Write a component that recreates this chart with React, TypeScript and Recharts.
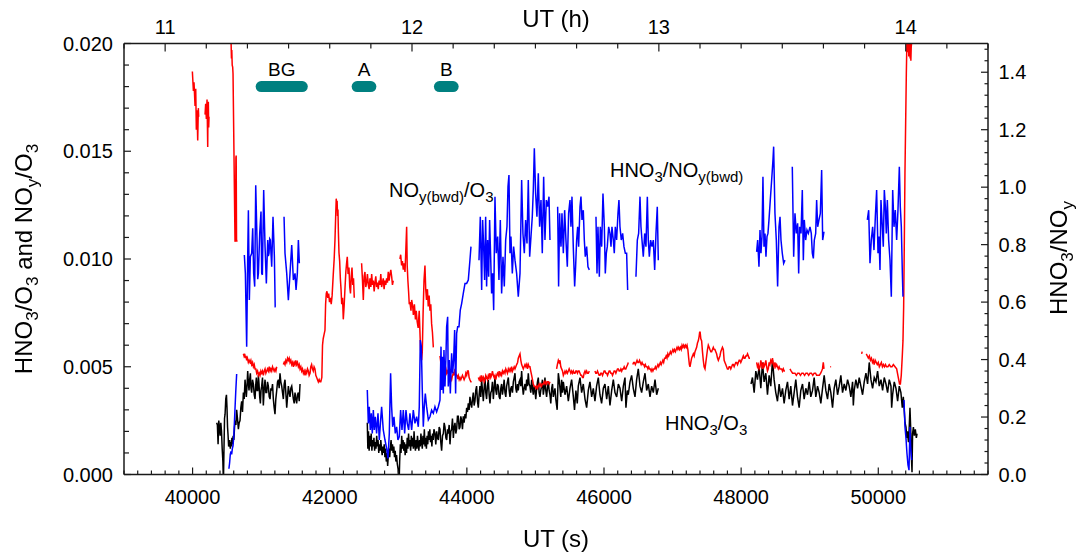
import React from 'react';
import { LineChart, Line, XAxis, YAxis, ReferenceDot } from 'recharts';

type Pt = [number, number | null];

const FONT = '"Liberation Sans", Arial, Helvetica, sans-serif';
const AX = '#1a1a1a';

// NOy(bwd)/O3 (left axis), red
const noyO3: Pt[] = [
  [39997,0.0187],[40012,0.0178],[40021,0.0182],[40036,0.0171],[40046,0.0179],[40055,0.0160],[40065,0.0169],[40075,0.0155],[40084,0.0170],[40089,0.0166],[40130,null],
  [40182,0.0167],[40191,0.0172],[40201,0.0165],[40211,0.0174],[40216,0.0163],[40221,0.0152],[40225,0.0171],[40230,0.0173],[40235,0.0161],[40240,0.0166],[40400,null],
  [40555,0.0210],[40562,0.0200],[40567,0.0193],[40572,0.0197],[40578,0.0190],[40585,0.0189],[40590,0.0186],[40619,0.0108],[40626,0.0109],[40632,0.0147],[40636,0.0148],[40641,0.0109],[40648,0.0108],[40700,null],
  [40741,0.0056],[40750,0.0055],[40760,0.0056],[40770,0.0054],[40780,0.0055],[40789,0.0053],[40800,0.0054],[40813,0.0052],[40825,0.0053],[40838,0.0052],[40850,0.0053],[40862,0.0051],[40875,0.0052],[40887,0.0050],[40899,0.0051],[40911,0.0049],[40923,0.0049],[40935,0.0047],[40948,0.0048],[40960,0.0046],[40972,0.0047],[40984,0.0046],[40996,0.0048],[41008,0.0047],[41020,0.0048],[41032,0.0046],[41045,0.0048],[41057,0.0049],[41069,0.0047],[41081,0.0048],[41093,0.0049],[41105,0.0048],[41118,0.0050],[41130,0.0048],[41142,0.0049],[41154,0.0048],[41166,0.0050],[41178,0.0049],[41190,0.0048],[41202,0.0049],[41215,0.0048],[41227,0.0050],[41280,null],
  [41324,0.0051],[41336,0.0052],[41348,0.0051],[41360,0.0053],[41373,0.0052],[41385,0.0054],[41397,0.0053],[41409,0.0054],[41421,0.0052],[41433,0.0053],[41446,0.0051],[41458,0.0052],[41470,0.0050],[41482,0.0052],[41494,0.0051],[41506,0.0053],[41518,0.0051],[41530,0.0052],[41543,0.0050],[41555,0.0051],[41567,0.0049],[41579,0.0050],[41591,0.0048],[41603,0.0049],[41616,0.0047],[41628,0.0048],[41640,0.0046],[41652,0.0048],[41664,0.0047],[41676,0.0049],[41689,0.0048],[41700,0.0046],[41713,0.0047],[41724,0.0050],[41736,0.0051],[41748,0.0049],[41760,0.0048],[41772,0.0050],[41785,0.0049],[41797,0.0046],[41810,0.0045],[41822,0.0044],[41834,0.0043],[41846,0.0044],[41858,0.0043],[41870,0.0043],[41885,0.0045],[41895,0.0060],[41905,0.0063],[41918,0.0065],[41931,0.0067],[41940,0.0079],[41950,0.0084],[41960,0.0085],[41972,0.0082],[41985,0.0084],[41997,0.0080],[42010,0.0082],[42022,0.0079],[42035,0.0083],[42052,0.0093],[42065,0.0100],[42077,0.0109],[42088,0.0121],[42095,0.0128],[42101,0.0125],[42108,0.0127],[42114,0.0120],[42120,0.0123],[42127,0.0112],[42135,0.0103],[42145,0.0099],[42155,0.0091],[42165,0.0086],[42175,0.0079],[42187,0.0082],[42198,0.0072],[42210,0.0078],[42222,0.0086],[42235,0.0094],[42246,0.0098],[42256,0.0101],[42268,0.0093],[42281,0.0096],[42292,0.0087],[42303,0.0084],[42314,0.0092],[42325,0.0096],[42336,0.0088],[42347,0.0091],[42358,0.0082],[42410,null],
  [42465,0.0098],[42478,0.0090],[42490,0.0081],[42502,0.0092],[42514,0.0094],[42526,0.0087],[42538,0.0089],[42550,0.0093],[42563,0.0088],[42575,0.0086],[42587,0.0091],[42600,0.0087],[42612,0.0093],[42624,0.0088],[42636,0.0090],[42648,0.0085],[42660,0.0089],[42672,0.0092],[42684,0.0087],[42696,0.0089],[42708,0.0086],[42720,0.0090],[42733,0.0088],[42745,0.0093],[42757,0.0087],[42769,0.0089],[42781,0.0091],[42793,0.0086],[42806,0.0090],[42818,0.0088],[42830,0.0091],[42842,0.0089],[42854,0.0094],[42866,0.0090],[42879,0.0093],[42891,0.0095],[42903,0.0092],[42915,0.0088],[42927,0.0090],[42980,null],
  [43024,0.0100],[43035,0.0102],[43048,0.0097],[43060,0.0099],[43073,0.0095],[43085,0.0098],[43098,0.0094],[43110,0.0104],[43122,0.0115],[43130,0.0097],[43140,0.0090],[43150,0.0085],[43160,0.0079],[43170,0.0080],[43185,0.0076],[43195,0.0081],[43210,0.0078],[43220,0.0074],[43235,0.0079],[43250,0.0072],[43262,0.0076],[43275,0.0071],[43290,0.0068],[43305,0.0076],[43318,0.0064],[43330,0.0055],[43340,0.0053],[43350,0.0057],[43362,0.0075],[43375,0.0090],[43389,0.0097],[43400,0.0086],[43412,0.0081],[43425,0.0086],[43437,0.0078],[43450,0.0083],[43462,0.0076],[43474,0.0079],[43486,0.0070],[43498,0.0066],[43511,0.0059],[43560,null],
  [43608,0.0055],[43620,0.0052],[43632,0.0050],[43645,0.0051],[43657,0.0049],[43669,0.0050],[43681,0.0048],[43694,0.0049],[43706,0.0047],[43718,0.0048],[43729,0.0047],[43742,0.0046],[43754,0.0047],[43766,0.0045],[43778,0.0044],[43790,0.0046],[43803,0.0047],[43815,0.0046],[43827,0.0049],[43839,0.0047],[43851,0.0046],[43863,0.0045],[43875,0.0046],[43888,0.0044],[43900,0.0045],[43912,0.0044],[43924,0.0045],[43936,0.0046],[43948,0.0045],[43960,0.0044],[43973,0.0045],[43985,0.0047],[43997,0.0046],[44009,0.0048],[44021,0.0048],[44033,0.0045],[44045,0.0044],[44058,0.0043],[44070,0.0043],[44120,null],
  [44167,0.0045],[44179,0.0044],[44191,0.0045],[44203,0.0043],[44215,0.0046],[44228,0.0044],[44240,0.0045],[44252,0.0043],[44264,0.0044],[44276,0.0046],[44288,0.0045],[44300,0.0044],[44313,0.0046],[44325,0.0045],[44337,0.0047],[44349,0.0045],[44361,0.0046],[44373,0.0048],[44386,0.0046],[44398,0.0045],[44410,0.0046],[44422,0.0044],[44434,0.0046],[44446,0.0047],[44459,0.0046],[44471,0.0048],[44483,0.0046],[44495,0.0047],[44507,0.0046],[44519,0.0048],[44531,0.0047],[44544,0.0048],[44556,0.0047],[44568,0.0049],[44580,0.0048],[44592,0.0047],[44605,0.0049],[44617,0.0048],[44629,0.0049],[44641,0.0048],[44653,0.0050],[44665,0.0048],[44678,0.0049],[44690,0.0050],[44702,0.0049],[44714,0.0050],[44726,0.0051],[44740,0.0052],[44750,0.0054],[44762,0.0055],[44775,0.0056],[44787,0.0053],[44799,0.0051],[44811,0.0050],[44823,0.0049],[44835,0.0050],[44848,0.0051],[44860,0.0050],[44872,0.0051],[44884,0.0049],[44896,0.0051],[44908,0.0050],[44920,0.0050],[44932,0.0048],[44945,0.0046],[44957,0.0044],[44969,0.0042],[44981,0.0041],[44993,0.0041],[45005,0.0040],[45018,0.0041],[45030,0.0040],[45042,0.0041],[45054,0.0042],[45066,0.0041],[45078,0.0042],[45090,0.0041],[45102,0.0042],[45115,0.0042],[45127,0.0043],[45139,0.0042],[45151,0.0043],[45163,0.0042],[45175,0.0043],[45188,0.0043],[45200,0.0042],[45212,0.0043],[45260,null],
  [45309,0.0049],[45320,0.0051],[45334,0.0053],[45346,0.0052],[45358,0.0053],[45370,0.0050],[45382,0.0049],[45395,0.0048],[45407,0.0046],[45420,0.0047],[45431,0.0048],[45443,0.0047],[45455,0.0048],[45467,0.0047],[45480,0.0048],[45492,0.0049],[45504,0.0048],[45516,0.0047],[45528,0.0048],[45540,0.0047],[45553,0.0048],[45565,0.0047],[45577,0.0047],[45589,0.0048],[45601,0.0048],[45613,0.0047],[45625,0.0048],[45637,0.0048],[45650,0.0047],[45662,0.0046],[45674,0.0046],[45686,0.0045],[45698,0.0045],[45710,0.0047],[45723,0.0048],[45735,0.0047],[45747,0.0048],[45759,0.0047],[45771,0.0047],[45786,0.0048],[45830,null],
  [45868,0.0048],[45880,0.0047],[45892,0.0047],[45905,0.0048],[45917,0.0047],[45929,0.0046],[45941,0.0046],[45953,0.0047],[45965,0.0047],[45978,0.0046],[45990,0.0047],[46002,0.0048],[46014,0.0048],[46027,0.0047],[46039,0.0047],[46051,0.0046],[46063,0.0047],[46075,0.0048],[46087,0.0048],[46100,0.0047],[46112,0.0047],[46124,0.0046],[46136,0.0047],[46148,0.0048],[46160,0.0048],[46173,0.0047],[46185,0.0048],[46197,0.0049],[46209,0.0049],[46221,0.0048],[46233,0.0048],[46246,0.0049],[46258,0.0048],[46270,0.0049],[46282,0.0049],[46294,0.0050],[46306,0.0049],[46318,0.0049],[46330,0.0050],[46345,0.0051],[46354,0.0052],[46390,null],
  [46420,0.0051],[46432,0.0052],[46445,0.0052],[46457,0.0051],[46470,0.0052],[46482,0.0053],[46494,0.0052],[46506,0.0052],[46518,0.0053],[46530,0.0052],[46542,0.0051],[46555,0.0052],[46567,0.0051],[46579,0.0051],[46591,0.0050],[46603,0.0051],[46615,0.0050],[46628,0.0050],[46640,0.0049],[46652,0.0050],[46664,0.0049],[46676,0.0049],[46688,0.0048],[46700,0.0049],[46713,0.0048],[46725,0.0049],[46737,0.0049],[46749,0.0050],[46761,0.0049],[46773,0.0050],[46786,0.0051],[46798,0.0050],[46810,0.0051],[46822,0.0052],[46834,0.0051],[46846,0.0052],[46858,0.0053],[46870,0.0052],[46883,0.0054],[46895,0.0054],[46907,0.0055],[46919,0.0054],[46931,0.0056],[46943,0.0055],[46956,0.0056],[46968,0.0057],[46980,0.0056],[46992,0.0057],[47004,0.0058],[47016,0.0057],[47028,0.0058],[47041,0.0057],[47053,0.0058],[47065,0.0059],[47077,0.0058],[47089,0.0059],[47101,0.0058],[47114,0.0059],[47126,0.0058],[47138,0.0060],[47150,0.0059],[47162,0.0060],[47174,0.0059],[47187,0.0060],[47199,0.0059],[47211,0.0060],[47223,0.0058],[47235,0.0054],[47245,0.0051],[47254,0.0050],[47266,0.0052],[47278,0.0054],[47290,0.0055],[47303,0.0056],[47315,0.0055],[47327,0.0057],[47339,0.0058],[47351,0.0059],[47363,0.0061],[47375,0.0062],[47387,0.0064],[47395,0.0066],[47402,0.0066],[47412,0.0063],[47424,0.0062],[47436,0.0057],[47448,0.0053],[47460,0.0050],[47473,0.0049],[47485,0.0052],[47497,0.0055],[47509,0.0058],[47521,0.0060],[47533,0.0059],[47545,0.0058],[47558,0.0057],[47570,0.0057],[47582,0.0058],[47594,0.0059],[47606,0.0058],[47618,0.0058],[47630,0.0057],[47642,0.0056],[47655,0.0054],[47667,0.0053],[47679,0.0054],[47691,0.0055],[47703,0.0057],[47715,0.0058],[47727,0.0059],[47740,0.0058],[47752,0.0053],[47764,0.0052],[47776,0.0051],[47788,0.0050],[47800,0.0049],[47813,0.0049],[47825,0.0050],[47837,0.0050],[47849,0.0049],[47862,0.0050],[47874,0.0051],[47886,0.0051],[47898,0.0050],[47910,0.0051],[47922,0.0052],[47935,0.0052],[47947,0.0051],[47959,0.0052],[47971,0.0053],[47983,0.0053],[47995,0.0052],[48008,0.0053],[48020,0.0054],[48032,0.0055],[48044,0.0054],[48056,0.0054],[48068,0.0055],[48080,0.0055],[48093,0.0056],[48105,0.0055],[48117,0.0054],[48129,0.0054],[48180,null],
  [48226,0.0052],[48238,0.0050],[48250,0.0051],[48262,0.0049],[48275,0.0050],[48287,0.0053],[48299,0.0051],[48311,0.0049],[48323,0.0052],[48335,0.0050],[48348,0.0051],[48360,0.0053],[48372,0.0050],[48384,0.0048],[48396,0.0049],[48408,0.0052],[48420,0.0051],[48432,0.0053],[48445,0.0052],[48457,0.0054],[48469,0.0051],[48481,0.0050],[48493,0.0052],[48505,0.0050],[48518,0.0051],[48530,0.0050],[48542,0.0049],[48554,0.0050],[48566,0.0049],[48578,0.0049],[48591,0.0049],[48603,0.0048],[48615,0.0049],[48627,0.0048],[48639,0.0048],[48680,null],
  [48712,0.0049],[48730,0.0048],[48750,0.0047],[48770,0.0047],[48785,0.0047],[48805,0.0046],[48825,0.0047],[48845,0.0047],[48865,0.0046],[48885,0.0047],[48905,0.0047],[48925,0.0046],[48945,0.0047],[48965,0.0047],[48985,0.0046],[49004,0.0047],[49025,0.0047],[49045,0.0046],[49065,0.0047],[49085,0.0047],[49101,0.0046],[49120,0.0046],[49140,0.0046],[49160,0.0047],[49174,0.0048],[49186,0.0049],[49198,0.0052],[49208,0.0049],[49250,null],
  [49300,0.0050],[49312,0.0050],[49500,null],
  [49757,0.0056],[49765,0.0057],[49790,null],
  [49825,0.0056],[49840,0.0055],[49855,0.0054],[49870,0.0055],[49885,0.0053],[49900,0.0054],[49915,0.0052],[49928,0.0053],[49940,0.0051],[49955,0.0053],[49970,0.0052],[49985,0.0051],[50000,0.0052],[50015,0.0050],[50030,0.0051],[50045,0.0052],[50060,0.0050],[50075,0.0051],[50090,0.0050],[50105,0.0051],[50120,0.0050],[50140,0.0050],[50160,0.0051],[50180,0.0050],[50200,0.0050],[50220,0.0051],[50244,0.0050],[50268,0.0049],[50292,0.0045],[50310,0.0042],[50322,0.0042],[50335,0.0046],[50350,0.0055],[50360,0.0062],[50370,0.0078],[50380,0.0109],[50389,0.0140],[50399,0.0163],[50409,0.0186],[50418,0.0202],[50425,0.0196],[50430,0.0205],[50436,0.0199],[50440,0.0203],[50445,0.0194],[50450,0.0201],[50455,0.0195],[50460,0.0203],[50465,0.0193],[50470,0.0200],[50475,0.0192],[50480,0.0198],[50487,0.0201],
];

// HNO3/O3 (left axis), black
const hno3O3: Pt[] = [
  [40352,0.0024],[40362,0.0023],[40372,0.0014],[40382,0.0025],[40392,0.0022],[40402,0.0018],[40412,0.0024],[40422,0.0020],[40432,0.0012],[40442,0.0006],[40450,-0.0004],[40458,0.0012],[40466,0.0026],[40474,0.0028],[40484,0.0035],[40494,0.0037],[40502,0.0031],[40510,0.0022],[40518,0.0018],[40526,0.0013],[40534,0.0014],[40542,0.0016],[40550,0.0012],[40558,0.0015],[40566,0.0013],[40574,0.0017],[40582,0.0014],[40592,0.0018],[40602,0.0016],[40612,0.0022],[40622,0.0025],[40632,0.0023],[40643,0.0030],[40655,0.0026],[40668,0.0021],[40680,0.0024],[40692,0.0025],[40704,0.0031],[40716,0.0034],[40728,0.0029],[40741,0.0038],[40753,0.0035],[40765,0.0044],[40775,0.0040],[40784,0.0036],[40794,0.0041],[40804,0.0048],[40813,0.0043],[40823,0.0039],[40833,0.0044],[40843,0.0047],[40852,0.0040],[40862,0.0038],[40874,0.0044],[40887,0.0042],[40899,0.0037],[40911,0.0035],[40920,0.0041],[40930,0.0045],[40940,0.0039],[40950,0.0039],[40960,0.0046],[40969,0.0042],[40979,0.0036],[40989,0.0033],[40998,0.0039],[41008,0.0041],[41020,0.0045],[41032,0.0032],[41045,0.0040],[41057,0.0044],[41069,0.0038],[41081,0.0038],[41093,0.0043],[41105,0.0041],[41118,0.0036],[41130,0.0035],[41142,0.0040],[41154,0.0039],[41166,0.0042],[41178,0.0035],[41190,0.0031],[41202,0.0028],[41214,0.0035],[41227,0.0039],[41239,0.0043],[41251,0.0044],[41263,0.0040],[41275,0.0047],[41287,0.0043],[41300,0.0041],[41312,0.0038],[41324,0.0035],[41336,0.0042],[41348,0.0044],[41360,0.0038],[41373,0.0031],[41385,0.0036],[41397,0.0041],[41409,0.0038],[41421,0.0036],[41433,0.0040],[41446,0.0041],[41458,0.0038],[41470,0.0035],[41482,0.0033],[41494,0.0038],[41506,0.0035],[41518,0.0033],[41530,0.0037],[41543,0.0038],[41555,0.0034],[41567,0.0042],[41600,null],
  [42548,0.0024],[42556,0.0012],[42565,0.0020],[42575,0.0011],[42585,0.0018],[42595,0.0013],[42605,0.0019],[42615,0.0011],[42625,0.0016],[42635,0.0013],[42645,0.0017],[42655,0.0011],[42665,0.0015],[42675,0.0012],[42685,0.0018],[42695,0.0013],[42705,0.0016],[42715,0.0010],[42725,0.0014],[42735,0.0011],[42745,0.0016],[42755,0.0012],[42765,0.0009],[42775,0.0013],[42785,0.0010],[42795,0.0014],[42805,0.0008],[42815,0.0012],[42825,0.0006],[42835,0.0010],[42845,0.0004],[42855,0.0009],[42865,0.0012],[42875,0.0008],[42885,0.0013],[42895,0.0016],[42905,0.0011],[42915,0.0014],[42925,0.0010],[42935,0.0013],[42945,0.0008],[42955,0.0011],[42965,0.0006],[42975,0.0009],[42985,0.0005],[42995,0.0003],[43005,0.0000],[43012,-0.0004],[43020,0.0006],[43030,0.0014],[43040,0.0010],[43050,0.0018],[43060,0.0012],[43070,0.0016],[43080,0.0011],[43090,0.0015],[43100,0.0009],[43110,0.0014],[43120,0.0010],[43130,0.0017],[43140,0.0012],[43150,0.0019],[43160,0.0013],[43170,0.0016],[43180,0.0011],[43190,0.0018],[43200,0.0013],[43210,0.0017],[43220,0.0012],[43230,0.0020],[43240,0.0014],[43250,0.0011],[43260,0.0016],[43270,0.0012],[43280,0.0018],[43290,0.0014],[43300,0.0011],[43310,0.0016],[43320,0.0013],[43330,0.0019],[43340,0.0015],[43350,0.0012],[43360,0.0018],[43370,0.0014],[43380,0.0021],[43390,0.0013],[43400,0.0017],[43410,0.0012],[43420,0.0018],[43430,0.0014],[43440,0.0020],[43450,0.0016],[43460,0.0021],[43470,0.0015],[43480,0.0018],[43490,0.0013],[43500,0.0019],[43510,0.0016],[43520,0.0021],[43535,0.0019],[43547,0.0014],[43560,0.0020],[43572,0.0017],[43584,0.0016],[43596,0.0022],[43608,0.0021],[43620,0.0015],[43632,0.0011],[43645,0.0018],[43657,0.0019],[43669,0.0024],[43681,0.0022],[43694,0.0017],[43706,0.0016],[43718,0.0021],[43729,0.0019],[43742,0.0023],[43754,0.0014],[43766,0.0020],[43778,0.0021],[43790,0.0026],[43803,0.0017],[43815,0.0022],[43827,0.0024],[43839,0.0019],[43851,0.0021],[43863,0.0027],[43875,0.0027],[43888,0.0021],[43900,0.0022],[43912,0.0027],[43924,0.0025],[43936,0.0021],[43948,0.0027],[43960,0.0024],[43973,0.0028],[43985,0.0026],[43997,0.0031],[44009,0.0029],[44021,0.0033],[44033,0.0030],[44045,0.0036],[44058,0.0033],[44070,0.0031],[44082,0.0035],[44094,0.0038],[44106,0.0032],[44118,0.0034],[44130,0.0039],[44142,0.0041],[44155,0.0034],[44167,0.0031],[44179,0.0037],[44191,0.0041],[44203,0.0036],[44215,0.0044],[44228,0.0039],[44240,0.0034],[44252,0.0040],[44264,0.0045],[44276,0.0038],[44288,0.0035],[44300,0.0041],[44313,0.0044],[44325,0.0037],[44337,0.0033],[44349,0.0038],[44361,0.0039],[44373,0.0043],[44386,0.0035],[44398,0.0040],[44410,0.0045],[44422,0.0039],[44434,0.0037],[44446,0.0042],[44459,0.0041],[44471,0.0036],[44483,0.0035],[44495,0.0040],[44507,0.0042],[44519,0.0037],[44531,0.0040],[44544,0.0044],[44556,0.0038],[44568,0.0036],[44580,0.0041],[44592,0.0043],[44605,0.0045],[44617,0.0039],[44629,0.0036],[44641,0.0040],[44653,0.0041],[44665,0.0038],[44678,0.0043],[44690,0.0045],[44702,0.0047],[44714,0.0040],[44726,0.0038],[44738,0.0042],[44750,0.0039],[44762,0.0043],[44775,0.0044],[44787,0.0041],[44799,0.0048],[44811,0.0041],[44823,0.0037],[44835,0.0040],[44848,0.0042],[44860,0.0039],[44872,0.0044],[44884,0.0041],[44896,0.0047],[44908,0.0042],[44920,0.0041],[44932,0.0038],[44945,0.0044],[44957,0.0040],[44969,0.0037],[44981,0.0041],[44993,0.0039],[45005,0.0035],[45018,0.0040],[45030,0.0043],[45042,0.0045],[45054,0.0038],[45066,0.0036],[45078,0.0039],[45090,0.0041],[45102,0.0044],[45115,0.0037],[45127,0.0040],[45139,0.0045],[45151,0.0039],[45163,0.0036],[45175,0.0040],[45188,0.0043],[45200,0.0039],[45212,0.0037],[45224,0.0033],[45237,0.0040],[45249,0.0042],[45261,0.0036],[45273,0.0038],[45285,0.0040],[45297,0.0035],[45317,0.0030],[45334,0.0047],[45346,0.0044],[45358,0.0040],[45370,0.0036],[45382,0.0044],[45395,0.0038],[45407,0.0043],[45431,0.0037],[45455,0.0041],[45480,0.0034],[45504,0.0040],[45528,0.0044],[45553,0.0036],[45570,0.0030],[45590,0.0039],[45610,0.0033],[45625,0.0041],[45650,0.0045],[45674,0.0038],[45698,0.0042],[45723,0.0035],[45747,0.0031],[45771,0.0039],[45795,0.0043],[45820,0.0036],[45844,0.0040],[45868,0.0034],[45892,0.0041],[45917,0.0045],[45941,0.0037],[45965,0.0033],[45990,0.0040],[46014,0.0042],[46039,0.0035],[46063,0.0041],[46087,0.0032],[46112,0.0039],[46136,0.0044],[46160,0.0038],[46185,0.0036],[46209,0.0042],[46233,0.0040],[46258,0.0034],[46282,0.0041],[46306,0.0045],[46320,0.0031],[46340,0.0039],[46354,0.0037],[46379,0.0043],[46403,0.0046],[46427,0.0040],[46452,0.0036],[46476,0.0044],[46500,0.0049],[46525,0.0041],[46549,0.0038],[46573,0.0043],[46598,0.0047],[46622,0.0039],[46646,0.0042],[46671,0.0036],[46695,0.0041],[46719,0.0038],[46744,0.0044],[46768,0.0037],[46792,0.0040],[47500,null],
  [48144,0.0042],[48165,0.0045],[48190,0.0038],[48214,0.0048],[48238,0.0044],[48262,0.0050],[48287,0.0040],[48311,0.0052],[48335,0.0043],[48360,0.0047],[48384,0.0037],[48408,0.0046],[48432,0.0041],[48457,0.0053],[48481,0.0044],[48505,0.0038],[48530,0.0034],[48554,0.0042],[48578,0.0036],[48603,0.0040],[48627,0.0033],[48651,0.0039],[48676,0.0043],[48700,0.0035],[48724,0.0041],[48749,0.0032],[48773,0.0038],[48797,0.0044],[48822,0.0036],[48846,0.0031],[48870,0.0039],[48895,0.0042],[48919,0.0035],[48943,0.0040],[48968,0.0037],[48992,0.0043],[49016,0.0036],[49041,0.0039],[49065,0.0045],[49089,0.0036],[49114,0.0041],[49138,0.0038],[49162,0.0033],[49187,0.0040],[49211,0.0046],[49235,0.0039],[49260,0.0035],[49284,0.0042],[49308,0.0038],[49333,0.0031],[49357,0.0040],[49381,0.0044],[49406,0.0037],[49430,0.0041],[49454,0.0046],[49479,0.0038],[49503,0.0042],[49527,0.0039],[49552,0.0044],[49576,0.0041],[49600,0.0036],[49625,0.0043],[49636,0.0032],[49649,0.0039],[49673,0.0044],[49698,0.0040],[49722,0.0045],[49746,0.0041],[49771,0.0037],[49795,0.0043],[49820,0.0047],[49844,0.0042],[49868,0.0052],[49893,0.0044],[49917,0.0040],[49941,0.0045],[49966,0.0043],[49990,0.0048],[50014,0.0041],[50039,0.0044],[50063,0.0039],[50087,0.0045],[50112,0.0042],[50136,0.0038],[50160,0.0044],[50185,0.0041],[50195,0.0031],[50209,0.0037],[50233,0.0043],[50258,0.0040],[50282,0.0034],[50306,0.0041],[50330,0.0038],[50350,0.0031],[50365,0.0036],[50378,0.0030],[50390,0.0024],[50404,0.0022],[50415,0.0017],[50425,0.0020],[50440,0.0015],[50450,0.0021],[50462,0.0031],[50472,0.0022],[50482,0.0009],[50492,0.0001],[50500,0.0019],[50512,0.0022],[50525,0.0018],[50540,0.0021],[50555,0.0017],[50565,0.0019],
];

// HNO3/NOy(bwd) (right axis), blue
const hno3Noy: Pt[] = [
  [40530,0.02],[40540,0.04],[40550,0.07],[40560,0.08],[40570,0.07],[40580,0.09],[40590,0.10],[40600,0.13],[40610,0.18],[40619,0.23],[40630,0.29],[40643,0.35],[40700,null],
  [40755,0.764],[40770,0.700],[40789,0.445],[40804,0.758],[40814,0.920],[40828,0.607],[40843,0.758],[40862,0.770],[40877,0.857],[40891,0.700],[40906,0.654],[40921,1.007],[40940,0.816],[40950,0.680],[40960,0.700],[40979,0.839],[40998,0.915],[41008,0.700],[41018,0.695],[41037,0.990],[41057,0.793],[41076,0.665],[41096,0.816],[41105,0.760],[41115,0.770],[41125,0.820],[41134,0.816],[41154,0.723],[41173,0.897],[41193,0.758],[41205,0.584],[41212,0.584],[41270,null],
  [41334,0.897],[41348,0.770],[41373,0.700],[41397,0.607],[41421,0.700],[41446,0.799],[41470,0.677],[41494,0.700],[41509,0.642],[41528,0.700],[41543,0.816],[41557,0.735],[41700,null],
  [42548,0.294],[42563,0.178],[42577,0.236],[42592,0.155],[42606,0.213],[42621,0.143],[42636,0.224],[42650,0.155],[42665,0.201],[42684,0.143],[42704,0.213],[42723,0.120],[42743,0.190],[42757,0.236],[42781,0.155],[42806,0.120],[42830,0.091],[42850,0.056],[42869,0.143],[42888,0.352],[42903,0.236],[42918,0.166],[42937,0.201],[42956,0.143],[42976,0.166],[42995,0.120],[43015,0.132],[43034,0.224],[43054,0.155],[43073,0.224],[43093,0.143],[43112,0.224],[43131,0.178],[43151,0.155],[43170,0.213],[43195,0.155],[43219,0.224],[43243,0.178],[43268,0.201],[43292,0.166],[43306,0.236],[43321,0.468],[43336,0.445],[43350,0.294],[43365,0.166],[43379,0.236],[43394,0.282],[43413,0.236],[43438,0.190],[43462,0.201],[43486,0.224],[43511,0.213],[43535,0.236],[43559,0.218],[43584,0.236],[43608,0.259],[43623,0.445],[43632,0.294],[43642,0.410],[43657,0.282],[43666,0.433],[43681,0.306],[43695,0.410],[43705,0.514],[43720,0.549],[43729,0.306],[43744,0.398],[43759,0.282],[43778,0.422],[43793,0.352],[43807,0.398],[43822,0.503],[43836,0.282],[43851,0.491],[43866,0.514],[43885,0.514],[43904,0.572],[43924,0.595],[43948,0.630],[43973,0.665],[43997,0.665],[44021,0.677],[44045,0.746],[44060,0.793],[44120,null],
  [44177,0.746],[44196,0.897],[44216,0.642],[44230,0.886],[44245,0.793],[44259,0.677],[44274,0.897],[44288,0.654],[44303,0.816],[44318,0.688],[44332,0.886],[44347,0.758],[44361,0.630],[44376,0.700],[44391,0.572],[44410,0.967],[44429,0.770],[44449,0.828],[44468,0.677],[44488,0.886],[44507,0.630],[44527,0.758],[44546,0.654],[44566,0.816],[44585,0.862],[44600,1.002],[44614,1.042],[44629,0.770],[44643,0.828],[44663,0.700],[44682,0.793],[44702,0.746],[44726,0.700],[44750,0.619],[44775,0.700],[44799,1.025],[44818,0.839],[44838,0.770],[44857,0.886],[44877,0.804],[44896,1.025],[44916,0.758],[44935,0.828],[44954,0.897],[44969,0.990],[44984,1.135],[45003,0.978],[45022,0.897],[45042,1.048],[45061,0.862],[45081,0.955],[45100,0.770],[45120,1.036],[45139,0.816],[45159,0.955],[45178,0.932],[45198,0.967],[45212,0.816],[45270,null],
  [45324,0.932],[45338,0.654],[45353,0.909],[45358,0.862],[45373,0.793],[45387,0.909],[45407,0.770],[45426,0.920],[45445,0.816],[45465,0.723],[45484,0.909],[45504,0.955],[45518,0.862],[45533,0.967],[45552,0.793],[45572,0.654],[45586,0.723],[45601,0.816],[45616,0.862],[45630,0.793],[45650,0.932],[45664,0.967],[45679,0.886],[45698,0.920],[45713,0.816],[45727,0.758],[45747,0.793],[45766,0.723],[45786,0.712],[45840,null],
  [45883,0.897],[45898,0.700],[45912,0.862],[45932,0.688],[45946,0.862],[45966,0.793],[45985,0.978],[46005,0.862],[46019,0.700],[46034,0.770],[46048,0.793],[46068,0.862],[46087,0.839],[46102,0.793],[46116,0.862],[46136,0.816],[46150,0.770],[46165,0.862],[46184,0.816],[46204,0.909],[46218,0.955],[46233,0.862],[46252,0.816],[46272,0.839],[46291,0.793],[46311,0.770],[46330,0.770],[46345,0.642],[46400,null],
  [46466,0.688],[46486,0.816],[46505,0.839],[46525,0.967],[46539,0.862],[46554,0.816],[46573,0.758],[46593,0.839],[46612,0.793],[46632,0.967],[46646,0.816],[46661,0.758],[46680,0.816],[46700,0.793],[46719,0.816],[46739,0.712],[46758,0.839],[46777,0.932],[46792,0.746],[47500,null],
  [48226,0.775],[48241,0.816],[48260,0.723],[48275,0.851],[48289,0.770],[48304,0.828],[48318,1.036],[48333,0.793],[48348,0.839],[48362,0.758],[48377,0.828],[48391,0.839],[48406,0.886],[48425,0.955],[48445,1.025],[48464,1.094],[48474,1.141],[48493,0.909],[48513,0.816],[48532,0.654],[48552,0.862],[48567,0.897],[48581,0.816],[48600,0.770],[48620,0.735],[48639,0.746],[48700,null],
  [48746,1.071],[48766,0.758],[48785,0.909],[48805,0.839],[48824,0.874],[48839,0.700],[48853,0.862],[48873,0.839],[48892,0.990],[48907,0.746],[48921,0.886],[48941,0.816],[48960,0.851],[48980,0.839],[49004,0.862],[49023,0.839],[49038,0.770],[49053,0.752],[49067,0.816],[49087,0.839],[49101,0.955],[49116,0.862],[49135,0.886],[49155,0.909],[49174,1.060],[49189,0.816],[49208,0.845],[49500,null],
  [49840,0.886],[49860,0.920],[49879,0.735],[49898,0.816],[49918,0.862],[49937,0.781],[49957,0.897],[49976,0.990],[49996,0.770],[50010,0.828],[50025,0.712],[50039,0.955],[50054,0.886],[50073,0.793],[50088,0.990],[50103,0.932],[50117,0.839],[50132,0.955],[50151,0.816],[50171,0.746],[50190,0.619],[50210,0.990],[50229,0.862],[50248,0.920],[50268,0.816],[50287,0.920],[50307,1.071],[50321,0.932],[50336,0.862],[50351,0.700],[50360,0.619],[50368,null],
  [50375,0.259],[50389,0.166],[50404,0.126],[50418,0.074],[50433,0.033],[50448,0.015],[50462,0.166],[50472,0.097],[50487,0.050],
];

// sampling periods (teal bars)
const periodNames = ['BG', 'A', 'B'];
const periodStart = [41000, 42400, 43600];
const periodEnd = [41600, 42600, 43800];
const periodLevel = 0.018;

// axis ticks
const secTicks = Array.from({ length: 64 }, (_, i) => 39000 + 200 * i);
const hourTicks = Array.from({ length: 22 }, (_, i) => 39000 + 600 * i);
const leftTicks = Array.from({ length: 21 }, (_, i) => i / 1000);
const rightTicks = Array.from({ length: 38 }, (_, i) => (i * 4) / 100);

const rows = (pts: Pt[]) => pts.map(([t, v]) => ({ t, v }));

type Part = [string, boolean];
const rich = (parts: Part[], size: number, sub: number, shift: number) => {
  let cur = 0;
  return parts.map(([s, isSub], i) => {
    const target = isSub ? shift : 0;
    const dy = target - cur;
    cur = target;
    return (
      <tspan key={i} dy={dy} fontSize={isSub ? sub : size}>
        {s}
      </tspan>
    );
  });
};

const BottomTick = (p: any) => {
  const v = p.payload.value as number;
  const major = v % 2000 === 0;
  return (
    <g>
      <line x1={p.x} x2={p.x} y1={p.y} y2={p.y - (major ? 7 : 4)} stroke={AX} strokeWidth={1.2} />
      {major && (
        <text x={p.x} y={p.y + 29} textAnchor="middle" fontSize={20} fontFamily={FONT} fill="#000">
          {v}
        </text>
      )}
    </g>
  );
};

const TopTick = (p: any) => {
  const v = p.payload.value as number;
  const major = v % 3600 === 0;
  return (
    <g>
      <line x1={p.x} x2={p.x} y1={p.y} y2={p.y + (major ? 8 : 5)} stroke={AX} strokeWidth={1.2} />
      {major && (
        <text x={p.x} y={p.y - 10} textAnchor="middle" fontSize={20} fontFamily={FONT} fill="#000">
          {v / 3600}
        </text>
      )}
    </g>
  );
};

const LeftTick = (p: any) => {
  const v = p.payload.value as number;
  const major = Math.round(v * 1000) % 5 === 0;
  return (
    <g>
      <line x1={p.x} x2={p.x + (major ? 7 : 5)} y1={p.y} y2={p.y} stroke={AX} strokeWidth={1.2} />
      {major && (
        <text x={p.x - 11} y={p.y + 7} textAnchor="end" fontSize={20} fontFamily={FONT} fill="#000">
          {v.toFixed(3)}
        </text>
      )}
    </g>
  );
};

const RightTick = (p: any) => {
  const v = p.payload.value as number;
  const major = Math.round(v / 0.04) % 5 === 0;
  return (
    <g>
      <line x1={p.x} x2={p.x - (major ? 7 : 3.5)} y1={p.y} y2={p.y} stroke={AX} strokeWidth={1.2} />
      {major && (
        <text x={p.x + 10.5} y={p.y + 7} textAnchor="start" fontSize={20} fontFamily={FONT} fill="#000">
          {v.toFixed(1)}
        </text>
      )}
    </g>
  );
};

const annotation = (parts: Part[]) => (p: any) => (
  <text x={p.cx} y={p.cy} fontSize={20} fontFamily={FONT} fill="#000">
    {rich(parts, 20, 15, 5)}
  </text>
);

const W = 1063;
const H = 538;

export default function App() {
  return (
    <div style={{ position: 'relative', width: W, height: H }}>
      <LineChart width={W} height={H} margin={{ top: 5.5, right: 23, bottom: 41.5, left: 56 }}>
        <XAxis
          xAxisId="b"
          type="number"
          dataKey="t"
          domain={[39000, 51600]}
          allowDataOverflow
          ticks={secTicks}
          interval={0}
          tick={<BottomTick />}
          tickLine={false}
          tickSize={0}
          tickMargin={0}
          height={30}
          axisLine={{ stroke: AX, strokeWidth: 1.5 }}
        />
        <XAxis
          xAxisId="t"
          orientation="top"
          type="number"
          dataKey="t"
          domain={[39000, 51600]}
          allowDataOverflow
          ticks={hourTicks}
          interval={0}
          tick={<TopTick />}
          tickLine={false}
          tickSize={0}
          tickMargin={0}
          height={30}
          axisLine={{ stroke: AX, strokeWidth: 1.5 }}
        />
        <YAxis
          yAxisId="l"
          type="number"
          domain={[0, 0.02]}
          allowDataOverflow
          ticks={leftTicks}
          interval={0}
          tick={<LeftTick />}
          tickLine={false}
          tickSize={0}
          tickMargin={0}
          width={60}
          axisLine={{ stroke: AX, strokeWidth: 1.5 }}
        />
        <YAxis
          yAxisId="r"
          orientation="right"
          type="number"
          domain={[0, 1.5]}
          allowDataOverflow
          ticks={rightTicks}
          interval={0}
          tick={<RightTick />}
          tickLine={false}
          tickSize={0}
          tickMargin={0}
          width={60}
          axisLine={{ stroke: AX, strokeWidth: 1.5 }}
        />
        <Line xAxisId="b" yAxisId="l" data={rows(hno3O3)} dataKey="v" type="linear" stroke="#000000" strokeWidth={1.5} dot={false} isAnimationActive={false} connectNulls={false} />
        <Line xAxisId="b" yAxisId="l" data={rows(noyO3)} dataKey="v" type="linear" stroke="#ff0000" strokeWidth={1.5} dot={false} isAnimationActive={false} connectNulls={false} />
        <Line xAxisId="b" yAxisId="r" data={rows(hno3Noy)} dataKey="v" type="linear" stroke="#0000ff" strokeWidth={1.5} dot={false} isAnimationActive={false} connectNulls={false} />
        {periodNames.map((name, i) => (
          <Line
            key={name}
            xAxisId="b"
            yAxisId="l"
            data={[
              { t: periodStart[i], v: periodLevel },
              { t: periodEnd[i], v: periodLevel },
            ]}
            dataKey="v"
            type="linear"
            stroke="#008080"
            strokeWidth={11}
            strokeLinecap="round"
            dot={false}
            isAnimationActive={false}
          />
        ))}
        {periodNames.map((name, i) => (
          <ReferenceDot
            key={'lab' + name}
            xAxisId="b"
            yAxisId="l"
            x={(periodStart[i] + periodEnd[i]) / 2}
            y={periodLevel}
            shape={(p: any) => (
              <text x={p.cx} y={p.cy - 11} textAnchor="middle" fontSize={19} fontFamily={FONT} fill="#000">
                {name}
              </text>
            )}
          />
        ))}
        <ReferenceDot xAxisId="b" yAxisId="l" x={42865} y={0.0129}
          shape={annotation([['NO', false], ['y(bwd)', true], ['/O', false], ['3', true]])} />
        <ReferenceDot xAxisId="b" yAxisId="l" x={46087} y={0.0138}
          shape={annotation([['HNO', false], ['3', true], ['/NO', false], ['y(bwd)', true]])} />
        <ReferenceDot xAxisId="b" yAxisId="l" x={46889} y={0.00206}
          shape={annotation([['HNO', false], ['3', true], ['/O', false], ['3', true]])} />
      </LineChart>
      <svg
        width={1079}
        height={554}
        style={{ position: 'fixed', left: 0, top: 0, overflow: 'visible', pointerEvents: 'none' }}
      >
        <text x={556} y={26.7} textAnchor="middle" fontSize={24} fontFamily={FONT} fill="#000">UT (h)</text>
        <text x={556} y={546.5} textAnchor="middle" fontSize={24} fontFamily={FONT} fill="#000">UT (s)</text>
        <text transform="translate(31.7,259) rotate(-90)" textAnchor="middle" fontSize={24} fontFamily={FONT} fill="#000">
          {rich([['HNO', false], ['3', true], ['/O', false], ['3', true], [' and NO', false], ['y', true], ['/O', false], ['3', true]], 24, 17, 6)}
        </text>
        <text transform="translate(1067,258) rotate(-90)" textAnchor="middle" fontSize={24} fontFamily={FONT} fill="#000">
          {rich([['HNO', false], ['3', true], ['/NO', false], ['y', true]], 24, 17, 6)}
        </text>
      </svg>
    </div>
  );
}
